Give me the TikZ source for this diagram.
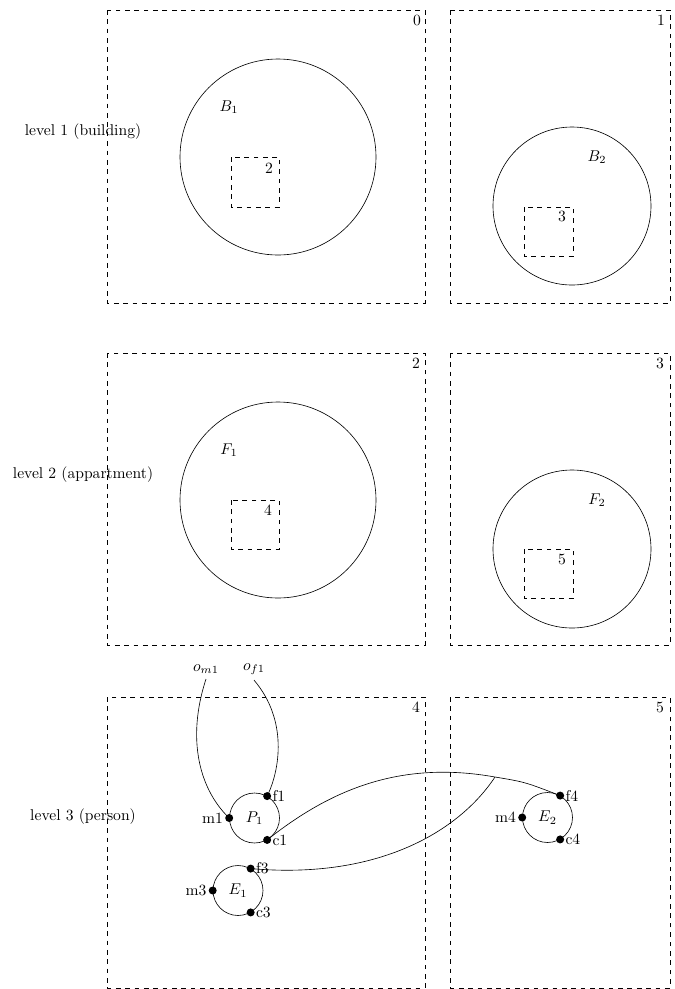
\documentclass[tikz,border=0pt]{standalone}
\usetikzlibrary{positioning}
\begin{document}
\begin{tikzpicture}[
    x=0.0225cm, y=-0.0225cm,
    zone/.style={draw, dashed},
    person/.style={draw, circle, minimum size=1.125cm, inner sep=0pt},
    pin/.style={circle, fill=black, inner sep=0pt, minimum size=0.18cm},
    link/.style={thin},
]
\useasboundingbox (0,0) rectangle (675,989);

% level 1
\node (lvl1) at (83,132) {level 1 (building)};
\draw[zone] (107,10) rectangle (425,303);
\draw[zone] (450,10) rectangle (670,303);
\node (n0) at (417,20) {0};
\node (n1) at (661,20) {1};
\draw (278,157) circle [radius=98];
\node (B1) at (229,107) {$B_1$};
\draw[zone] (231,157) rectangle (279,207);
\node (n2a) at (269,168) {2};
\draw (572,206) circle [radius=79];
\node (B2) at (597,157) {$B_2$};
\draw[zone] (524,207) rectangle (573,256);
\node (n3a) at (562,216) {3};

% level 2
\node (lvl2) at (83,475) {level 2 (appartment)};
\draw[zone] (107,353) rectangle (425,645);
\draw[zone] (450,353) rectangle (670,645);
\node (n2) at (416,363) {2};
\node (n3) at (660,363) {3};
\draw (278,500) circle [radius=98];
\node (F1) at (229,450) {$F_1$};
\draw[zone] (231,500) rectangle (279,549);
\node (n4a) at (268,510) {4};
\draw (572,549) circle [radius=79];
\node (F2) at (597,500) {$F_2$};
\draw[zone] (524,549) rectangle (573,598);
\node (n5a) at (562,559) {5};

% level 3
\node (lvl3) at (83,817) {level 3 (person)};
\draw[zone] (107,697) rectangle (425,988);
\draw[zone] (450,697) rectangle (670,988);
\node (n4) at (416,707) {4};
\node (n5) at (660,707) {5};

\node[person] (P1) at (254.5,818) {$P_1$};
\node[person] (E1) at (238,890.5) {$E_1$};
\node[person] (E2) at (547.5,817.5) {$E_2$};

\node[pin, label={[inner sep=1pt]left:m1}] (m1) at (P1.west) {};
\node[pin, label={[inner sep=0.5pt]right:f1}] (f1) at (P1.60) {};
\node[pin, label={[inner sep=0.5pt]right:c1}] (c1) at (P1.-60) {};
\node[pin, label={[inner sep=1pt]left:m3}] (m3) at (E1.west) {};
\node[pin, label={[inner sep=0.5pt]right:f3}] (f3) at (E1.60) {};
\node[pin, label={[inner sep=0.5pt]right:c3}] (c3) at (E1.-60) {};
\node[pin, label={[inner sep=1pt]left:m4}] (m4) at (E2.west) {};
\node[pin, label={[inner sep=0.5pt]right:f4}] (f4) at (E2.60) {};
\node[pin, label={[inner sep=0.5pt]right:c4}] (c4) at (E2.-60) {};

\node (om1) at (206,669) {$o_{m1}$};
\node (of1) at (254,669) {$o_{f1}$};
\coordinate (join) at (495,777);

\draw[link] (om1.south) .. controls (186,740) and (200,790) .. (m1.center);
\draw[link] (of1.south) .. controls (288,720) and (280,770) .. (f1.center);
\draw[link] (c1.center) .. controls (330,790) and (400,760) .. (join)
    .. controls (525,782) .. (f4.center);
\draw[link] (f3.center) .. controls (380,880) and (460,830) .. (join);

\end{tikzpicture}
\end{document}
